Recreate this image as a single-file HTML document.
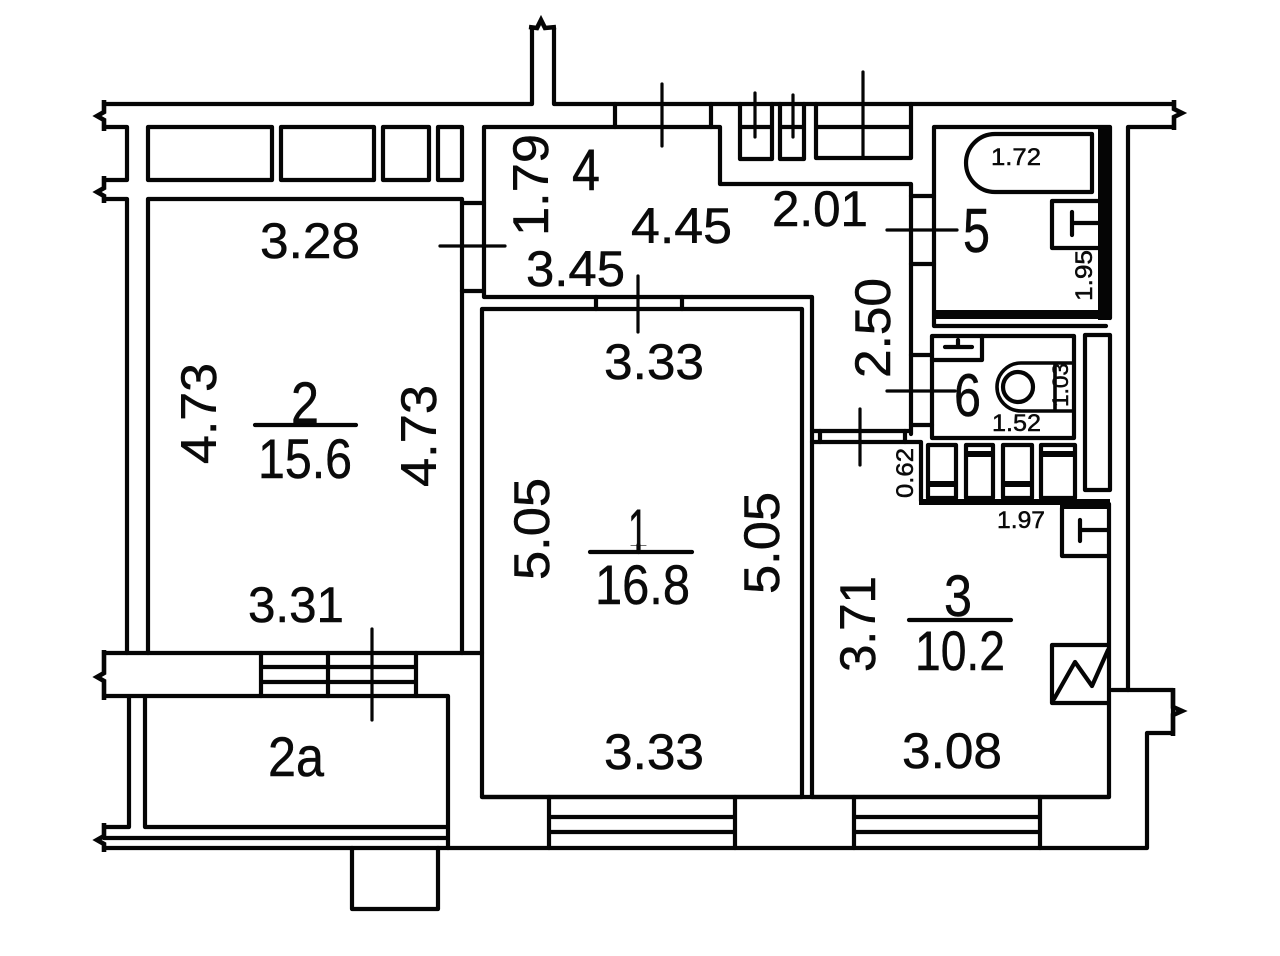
<!DOCTYPE html>
<html><head><meta charset="utf-8"><style>html,body{margin:0;padding:0;background:#fff}svg{display:block}text{font-family:"Liberation Sans",sans-serif;fill:#0a0a0a;stroke:#0a0a0a;stroke-width:.5}</style></head><body>
<svg width="1280" height="956" viewBox="0 0 1280 956" xmlns="http://www.w3.org/2000/svg">
<defs><clipPath id="c1"><rect x="620" y="500" width="40" height="46"/></clipPath></defs>
<rect width="1280" height="956" fill="#fff"/>
<g fill="none" stroke="#050505" stroke-width="4.2" stroke-linejoin="round" stroke-linecap="round">
<path d="M104 104H532V28M554 28V104H1174"/>
<path d="M127 127H104M127 127V180H104M104 199H127V653"/>
<path d="M1128 690V127H1172"/>
<path d="M1112 690H1173V733H1147V848H104"/>
<rect x="148" y="127" width="124" height="53"/><rect x="281" y="127" width="93" height="53"/><rect x="383" y="127" width="46" height="53"/><rect x="438" y="127" width="24" height="53"/>
<path d="M148 653V199H462V653"/>
<path d="M462 203H484M462 291H484"/>
<path d="M484 297V127H720V184H911V434M484 297H812V431H911"/>
<path d="M615 104V127M711 104V127"/>
<path d="M596 297V309M682 297V309"/>
<path d="M911 196H934M911 264H934M911 355H932M911 425H932"/>
<path d="M740 104V159H772V104M780 104V159H804V104M816 104V158H911V104M740 127H772M780 127H804M816 127H911"/>
<rect x="482" y="309" width="320" height="488"/>
<path d="M812 431V797"/>
<path d="M820 431V442M905 431V442"/>
<path d="M812 442H921V501M812 797H1109V504"/>
<path d="M482 797H1109"/>
<path d="M934 318V127H1110V318M934 318V326H1106"/>
<path d="M1092 134H995A29 29 0 0 0 995 192H1092Z"/>
<path d="M1098 201H1052V248H1098M1098 223H1072M1072 212V235"/>
<rect x="932" y="336" width="142" height="102"/>
<path d="M932 360H982V336M945 347H972M958 340V347"/>
<path d="M1072 363H1021A24 24 0 0 0 1021 411H1072M1055 363V411" stroke-width="3.6"/>
<circle cx="1018" cy="387" r="15"/>
<rect x="1085" y="335" width="25" height="155"/>
<rect x="928" y="445" width="28" height="53"/><rect x="966" y="445" width="27" height="53"/><rect x="1003" y="445" width="29" height="53"/><rect x="1041" y="445" width="34" height="53"/>
<path d="M1062 508V556H1108M1108 530H1080M1080 520V541"/>
<path d="M1108 645H1052V703H1108M1054 699L1075 662L1092 686L1108 650"/>
<path d="M104 653H482M104 696H448V848M129 696V827H104M145 696V827H447M104 838H447"/>
<path d="M261 653V696M416 653V696M328 653V696M261 667H416M261 682H416"/>
<path d="M352 848V909H438V848"/>
<path d="M549 797V848M735 797V848M549 817H735M549 832H735M854 797V848M1040 797V848M854 817H1040M854 832H1040"/>
<g stroke-width="3.2">
<path d="M440 246H505M662 84V146M755 93V137M793 95V137M863 72V158M638 276V332M887 230H957M887 391H955M860 409V465M372 629V720"/>
</g>
<path d="M255 425H356M590 552H692M909 620H1011"/>
<path d="M638.5 545V552"/>
</g>
<g fill="#050505" stroke="none">
<rect x="1098" y="127" width="13" height="193"/><rect x="934" y="310" width="177" height="9"/>
<rect x="919" y="499" width="191" height="6"/><rect x="1060" y="500" width="50" height="9"/>
<rect x="928" y="481" width="28" height="6"/><rect x="966" y="451" width="27" height="6"/><rect x="1003" y="481" width="29" height="6"/><rect x="1041" y="451" width="34" height="6"/>
</g>
<g fill="none" stroke="#050505" stroke-width="4.6" stroke-linejoin="miter">
<path d="M104 100V112L97 116L104 120V131"/>
<path d="M104 176V188L97 192L104 196V203"/>
<path d="M104 650V673L97 677L104 681V700"/>
<path d="M104 823V836L97 840L104 844V852"/>
<path d="M1174 100V109L1182 113L1174 117V130"/>
<path d="M1173 688V707L1182 711L1173 715V736"/>
<path d="M529 27L537 28L541 20L545 28L556 27"/>
</g>
<g font-size="50">
<text x="260" y="258" textLength="100" lengthAdjust="spacingAndGlyphs">3.28</text>
<text x="631" y="243" textLength="101" lengthAdjust="spacingAndGlyphs">4.45</text>
<text x="772" y="226" textLength="96" lengthAdjust="spacingAndGlyphs">2.01</text>
<text x="526" y="286" textLength="99" lengthAdjust="spacingAndGlyphs">3.45</text>
<text x="604" y="379" textLength="100" lengthAdjust="spacingAndGlyphs">3.33</text>
<text x="248" y="622" textLength="96" lengthAdjust="spacingAndGlyphs">3.31</text>
<text x="604" y="769" textLength="100" lengthAdjust="spacingAndGlyphs">3.33</text>
<text x="902" y="768" textLength="100" lengthAdjust="spacingAndGlyphs">3.08</text>
<text x="572" y="190" font-size="58" textLength="28" lengthAdjust="spacingAndGlyphs">4</text>
<text x="963" y="252" font-size="62" textLength="27" lengthAdjust="spacingAndGlyphs">5</text>
<text x="954" y="416" font-size="60" textLength="27" lengthAdjust="spacingAndGlyphs">6</text>
<text x="291" y="423" font-size="58" textLength="28" lengthAdjust="spacingAndGlyphs">2</text>
<text x="258" y="478" font-size="56" textLength="94" lengthAdjust="spacingAndGlyphs">15.6</text>
<text x="628" y="550" font-size="58" textLength="20" lengthAdjust="spacingAndGlyphs" clip-path="url(#c1)">1</text>
<text x="595" y="604" font-size="56" textLength="95" lengthAdjust="spacingAndGlyphs">16.8</text>
<text x="944" y="616" font-size="58" textLength="28" lengthAdjust="spacingAndGlyphs">3</text>
<text x="915" y="670" font-size="56" textLength="90" lengthAdjust="spacingAndGlyphs">10.2</text>
<text x="268" y="776" font-size="56" textLength="56" lengthAdjust="spacingAndGlyphs">2a</text>
<text transform="translate(548 236) rotate(-90)" textLength="102" lengthAdjust="spacingAndGlyphs">1.79</text>
<text transform="translate(890 378) rotate(-90)" textLength="100" lengthAdjust="spacingAndGlyphs">2.50</text>
<text transform="translate(216 464) rotate(-90)" textLength="101" lengthAdjust="spacingAndGlyphs">4.73</text>
<text transform="translate(436 487) rotate(-90)" textLength="102" lengthAdjust="spacingAndGlyphs">4.73</text>
<text transform="translate(549 580) rotate(-90)" textLength="102" lengthAdjust="spacingAndGlyphs">5.05</text>
<text transform="translate(779 594) rotate(-90)" textLength="102" lengthAdjust="spacingAndGlyphs">5.05</text>
<text transform="translate(875 672) rotate(-90)" textLength="96" lengthAdjust="spacingAndGlyphs">3.71</text>
</g>
<g font-size="24">
<text x="991" y="165" textLength="50" lengthAdjust="spacingAndGlyphs">1.72</text>
<text x="992" y="431" textLength="49" lengthAdjust="spacingAndGlyphs">1.52</text>
<text x="997" y="528" textLength="48" lengthAdjust="spacingAndGlyphs">1.97</text>
<text transform="translate(1092 301) rotate(-90)" textLength="51" lengthAdjust="spacingAndGlyphs">1.95</text>
<text transform="translate(913 498) rotate(-90)" textLength="50" lengthAdjust="spacingAndGlyphs">0.62</text>
<text transform="translate(1068 407) rotate(-90)" font-size="22" textLength="44" lengthAdjust="spacingAndGlyphs">1.03</text>
</g>
</svg>
</body></html>
